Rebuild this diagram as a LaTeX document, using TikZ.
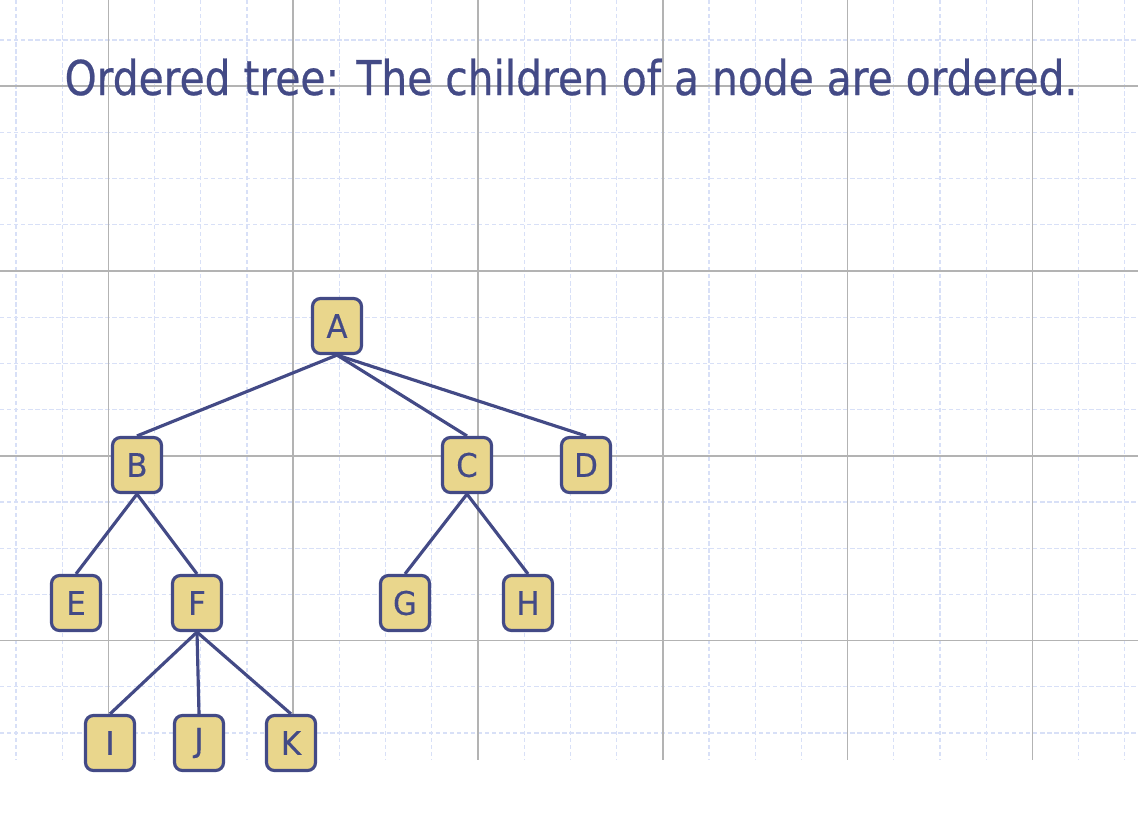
\documentclass[tikz,border=0pt]{standalone}
\usepackage{xcolor}
\usepackage{tikz}
\usepackage{fontspec}
\newfontfamily\slidefont[FakeStretch=0.85, FakeBold=0.5]{DejaVu Sans}
\newfontfamily\boxfont[FakeStretch=0.95, FakeBold=0.3]{DejaVu Sans}
\definecolor{treeblue}{HTML}{434A86}
\definecolor{treegold}{HTML}{E9D68C}
\definecolor{gridmajor}{HTML}{B3B3B3}
\definecolor{gridminor}{HTML}{D8E0F7}

\begin{document}
\begin{tikzpicture}[x=0.02cm, y=-0.02cm,
  treenode/.style={draw=treeblue, fill=treegold, line width=1.8pt, rounded corners=4.5pt, minimum width=0.98cm, minimum height=1.1cm, inner sep=0pt, text=treeblue, font=\boxfont\fontsize{18.5}{20}\selectfont},
  edge/.style={draw=treeblue, line width=1.8pt},
  majorline/.style={draw=gridmajor, line width=1pt},
  minorline/.style={draw=gridminor, line width=0.6pt, dash pattern=on 2.5pt off 1.5pt},
  title/.style={anchor=base, text=treeblue, inner sep=0pt, font=\slidefont\fontsize{27.3}{30}\selectfont}
]
\useasboundingbox (0,0) rectangle (1138,836);

% Grid
\foreach \i in {0,...,24} \draw[minorline] ({16+46.2*\i},0) -- ({16+46.2*\i},760);
\foreach \j in {0,...,15} \draw[minorline] (0,{40+46.2*\j}) -- (1138,{40+46.2*\j});
\foreach \i in {0,...,5} \draw[majorline] ({108.4+184.8*\i},0) -- ({108.4+184.8*\i},760);
\foreach \j in {0,...,3} \draw[majorline] (0,{86.2+184.8*\j}) -- (1138,{86.2+184.8*\j});

% Title
\node[title] (title) at (571, 95) {Ordered tree: The children of a node are ordered.};

% Root
\node[treenode] (A) at (337, 326) {A};

% Children
\node[treenode] (B) at (137, 465) {B};
\node[treenode] (C) at (467, 465) {C};
\node[treenode] (D) at (586, 465) {D};

% Grandchildren
\node[treenode] (E) at (76, 603) {E};
\node[treenode] (F) at (197, 603) {F};
\node[treenode] (G) at (405, 603) {G};
\node[treenode] (H) at (528, 603) {H};

% Leaves under F
\node[treenode] (I) at (110, 743) {I};
\node[treenode] (J) at (199, 743) {J};
\node[treenode] (K) at (291, 743) {K};

% Edges
\draw[edge] (A.south) -- (B.north);
\draw[edge] (A.south) -- (C.north);
\draw[edge] (A.south) -- (D.north);
\draw[edge] (B.south) -- (E.north);
\draw[edge] (B.south) -- (F.north);
\draw[edge] (C.south) -- (G.north);
\draw[edge] (C.south) -- (H.north);
\draw[edge] (F.south) -- (I.north);
\draw[edge] (F.south) -- (J.north);
\draw[edge] (F.south) -- (K.north);

\end{tikzpicture}
\end{document}
